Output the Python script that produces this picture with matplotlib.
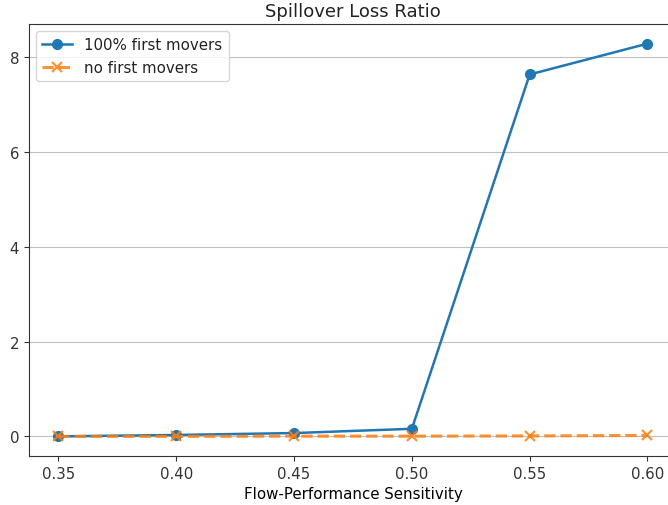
import numpy as np
import matplotlib
matplotlib.use("Agg")
import matplotlib.pyplot as plt

# sensitivity values on the x axis
sensitivity = [0.35, 0.40, 0.45, 0.50, 0.55, 0.60]
# loss ratio for each scenario
full_first_movers = [0.0, 0.03, 0.07, 0.16, 7.63, 8.28]
no_first_movers = [0.0, 0.0, 0.005, 0.005, 0.01, 0.02]

plt.rcParams["font.size"] = 10.8
plt.rcParams["text.color"] = "#222222"
plt.rcParams["xtick.color"] = "#333333"
plt.rcParams["ytick.color"] = "#333333"
plt.rcParams["axes.edgecolor"] = "#333333"

fig = plt.figure(figsize=(6.68, 5.06), dpi=100)
ax = fig.add_axes([0.0434, 0.0968, 0.970, 0.8538])

ax.plot(sensitivity, full_first_movers, "-o", color="#1f77b4", lw=1.8, ms=7,
        label="100% first movers")
ax.plot(sensitivity, no_first_movers, "--x", color="#ff7f0e", lw=2.2, ms=7, mew=1.6,
        alpha=0.85, label="no first movers")

ax.set_title("Spillover Loss Ratio", fontsize=13)
ax.set_xlabel("Flow-Performance Sensitivity")
ax.set_xticks(sensitivity)
ax.set_xticklabels(["%.2f" % s for s in sensitivity])
ax.grid(axis="y", color="#c0c0c0")
ax.legend(loc="upper left")

fig.savefig("out.png", dpi=100)
